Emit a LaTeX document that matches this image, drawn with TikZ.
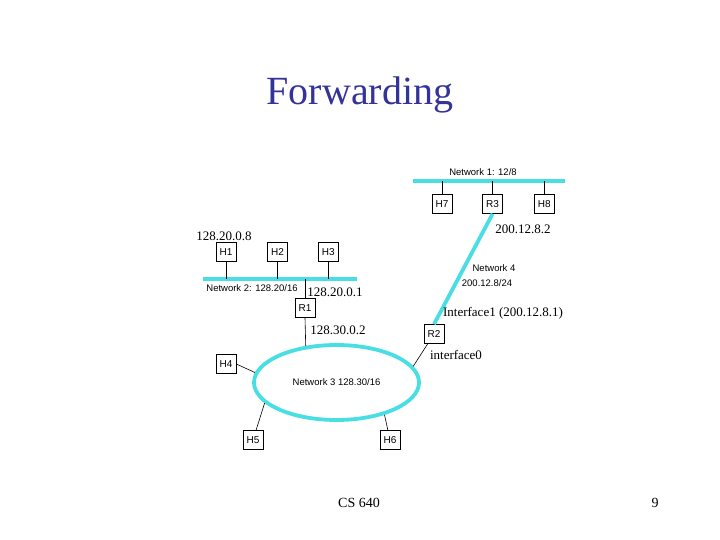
\documentclass[tikz,border=0pt]{standalone}
\usepackage{fontspec}
\setmainfont{Liberation Serif}
\setsansfont{Liberation Sans}
\usetikzlibrary{shapes.geometric, positioning}
\definecolor{netcyan}{RGB}{72,222,228}
\definecolor{titleblue}{RGB}{51,51,153}

\begin{document}
\begin{tikzpicture}[x=1pt, y=-1pt, node distance=30pt,
    box/.style={rectangle, draw=black, fill=white, line width=0.6pt, minimum width=20pt, minimum height=19pt, inner sep=0pt, font=\sffamily\fontsize{10}{11}\selectfont},
    net/.style={draw=netcyan, line width=3.8pt},
    link/.style={draw=black, line width=0.6pt},
    lbl/.style={font=\sffamily\fontsize{9.5}{11}\selectfont, inner sep=0pt},
    addr/.style={font=\fontsize{13}{15}\selectfont, inner sep=0pt}
]
    \useasboundingbox (0,0) rectangle (720,540);
    \node [font=\fontsize{40}{44}\selectfont, text=titleblue] (title) at (360,95) {Forwarding};

    % Network 1
    \coordinate (n1w) at (413,181);
    \coordinate (n1e) at (565,181);
    \path [net] (n1w) -- (n1e);
    \node [lbl] (n1lbl) at (483,172) {Network 1: 12/8};
    \node [box] (h7) at (442,204) {H7};
    \node [box, right=30pt of h7] (r3) {R3};
    \node [box, right=31pt of r3] (h8) {H8};
    \path [link] (h7) -- (h7 |- n1w);
    \path [link] (r3) -- (r3 |- n1w);
    \path [link] (h8) -- (h8 |- n1w);
    \node [addr] (r3addr) at (523,229) {200.12.8.2};

    % Network 2
    \coordinate (n2w) at (203,279);
    \coordinate (n2e) at (357,279);
    \path [net] (n2w) -- (n2e);
    \node [addr] (h1addr) at (224,236) {128.20.0.8};
    \node [box] (h1) at (226,252) {H1};
    \node [box, right=31pt of h1] (h2) {H2};
    \node [box, right=30pt of h2] (h3) {H3};
    \path [link] (h1) -- (h1 |- n2w);
    \path [link] (h2) -- (h2 |- n2w);
    \path [link] (h3) -- (h3 |- n2w);
    \node [lbl] (n2lbl) at (252,288) {Network 2: 128.20/16};

    % R1
    \node [box] (r1) at (305,308) {R1};
    \path [link] (r1) -- (r1 |- n2w);
    \node [addr] (r1up) at (335,292) {128.20.0.1};
    \node [addr] (r1down) at (338,330) {128.30.0.2};

    % Network 4 and R2
    \node [box] (r2) at (434,334) {R2};
    \path [net] (r3.south) -- (r2.north);
    \node [lbl] (n4lbl) at (494,268) {Network 4};
    \node [lbl] (n4addr) at (487,283) {200.12.8/24};
    \node [addr] (if1) at (503,313) {Interface1 (200.12.8.1)};
    \node [addr] (if0) at (456,355) {interface0};

    % Network 3
    \node [ellipse, net, minimum width=165pt, minimum height=75pt, inner sep=0pt, lbl] (net3) at (336.5,382.5) {Network 3 128.30/16};
    \node [box] (h4) at (226,364) {H4};
    \node [box] (h5) at (253,440) {H5};
    \node [box] (h6) at (390,440) {H6};
    \path [link] (r1.south) -- (net3.130);
    \path [link] (r2) -- (net3.12);
    \path [link] (h4.east) -- (net3.173);
    \path [link] (h5) -- (net3.196);
    \path [link] (h6) -- (net3.326);

    \node [font=\fontsize{14}{16}\selectfont] (footer) at (359,503) {CS 640};
    \node [font=\fontsize{14}{16}\selectfont] (page) at (655,503) {9};
\end{tikzpicture}
\end{document}
